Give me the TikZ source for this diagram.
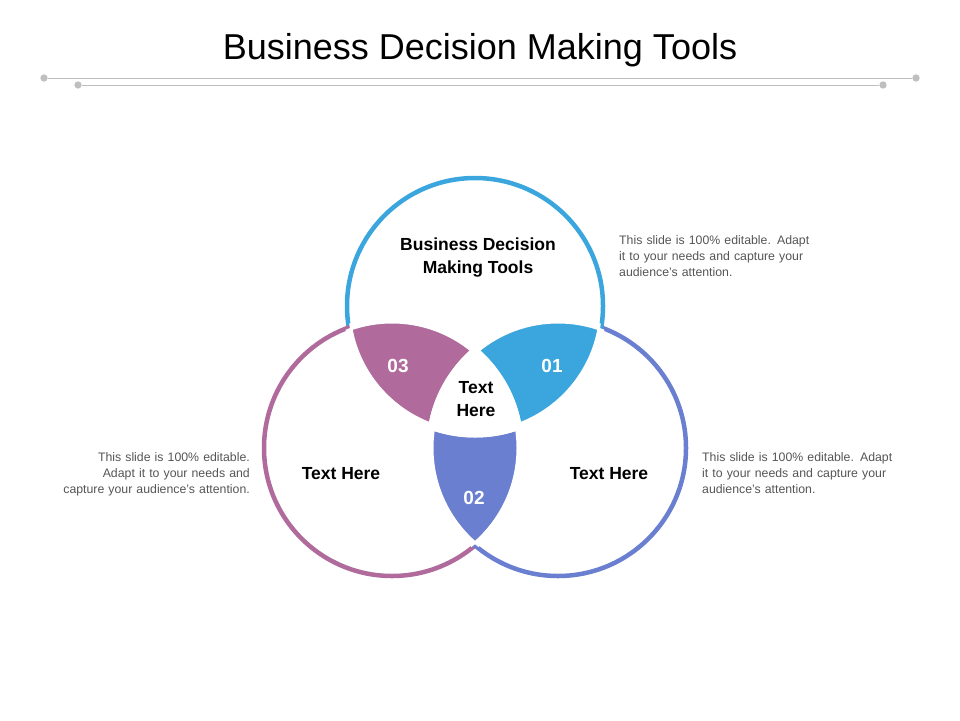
\documentclass[tikz,border=0pt]{standalone}
\usepackage{fontspec}
\setmainfont{Liberation Sans}
\definecolor{cblue}{HTML}{3AA6DD}
\definecolor{cpurple}{HTML}{B06A9B}
\definecolor{cviolet}{HTML}{6A7FD0}
\definecolor{cgray}{HTML}{555555}
\hyphenpenalty=10000
\exhyphenpenalty=10000
\begin{document}
\begin{tikzpicture}[x=1pt,y=-1pt]
    \tikzset{
        ring/.style={line width=4.5pt},
        gap/.style={white, line width=7pt},
        num/.style={text=white, font=\bfseries\fontsize{19}{22}\selectfont},
        lbl/.style={font=\bfseries\fontsize{17.5}{23}\selectfont, align=center},
        note/.style={text=cgray, font=\fontsize{12.3}{16}\selectfont, text width=202pt, inner sep=0pt},
        dot/.style={circle, fill=gray!50, inner sep=2.6pt}
    }
    \useasboundingbox (0,0) rectangle (960,720);

    % Title and rules
    \node (title) at (480,50) {\fontsize{36}{42}\selectfont Business Decision Making Tools};
    \node[dot] (la) at (44,78) {};
    \node[dot] (ra) at (916,78) {};
    \node[dot] (lb) at (78,85) {};
    \node[dot] (rb) at (883,85) {};
    \draw[gray!50, line width=1pt] (la) -- (ra);
    \draw[gray!50, line width=1pt] (lb) -- (rb);

    % Circle centres
    \coordinate (top) at (475,306);
    \coordinate (left) at (392,448);
    \coordinate (right) at (558,448);
    \def\rad{128}

    % Rings
    \draw[ring, cblue] (top) circle (\rad);
    \draw[ring, cpurple] (left) circle (\rad);
    \draw[ring, cviolet] (right) circle (\rad);

    % Lenses
    \foreach \a/\b/\c in {top/left/cpurple, top/right/cblue, left/right/cviolet} {
        \begin{scope}
            \clip (\a) circle (\rad+2);
            \fill[\c] (\b) circle (\rad+2);
        \end{scope}
    }

    % Centre region
    \begin{scope}
        \clip (top) circle (\rad);
        \clip (left) circle (\rad);
        \fill[white] (right) circle (\rad);
    \end{scope}

    % White gaps along the inner arcs
    \foreach \a/\b in {top/left, top/right, left/top, left/right, right/top, right/left} {
        \begin{scope}
            \clip (\b) circle (\rad-1);
            \draw[gap] (\a) circle (\rad);
        \end{scope}
    }

    % Labels
    \node[num] (n03) at (398,366) {03};
    \node[num] (n01) at (552,366) {01};
    \node[num] (n02) at (474,498) {02};
    \node[lbl] (mid) at (476,399) {Text\\Here};
    \node[lbl] (ltop) at (478,258) {Business Decision\\Making Tools};
    \node[lbl] (lleft) at (341,474) {Text Here};
    \node[lbl] (lright) at (609,474) {Text Here};

    % Notes
    \node[note, align=left, anchor=north west] (t1) at (619,235) {This slide is 100\% editable. Adapt it to your needs and capture your audience's attention.};
    \node[note, align=left, anchor=north west] (t2) at (702,452) {This slide is 100\% editable. Adapt it to your needs and capture your audience's attention.};
    \node[note, align=right, anchor=north east] (t3) at (250,452) {This slide is 100\% editable. Adapt it to your needs and capture your audience's attention.};
\end{tikzpicture}
\end{document}
